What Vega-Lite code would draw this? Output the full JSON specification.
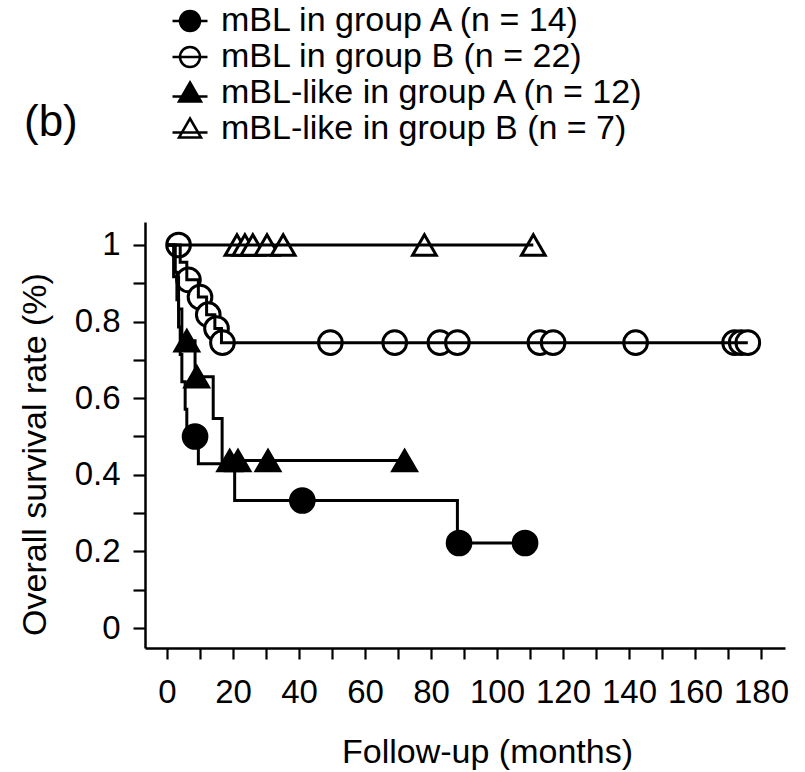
{
  "$schema": "https://vega.github.io/schema/vega-lite/v6.json",
  "width": 640,
  "height": 426,
  "autosize": {"type": "none"},
  "padding": {"left": 145, "top": 222, "right": 20, "bottom": 124},
  "background": "white",
  "title": {"text": "(b)", "anchor": "start", "frame": "group", "orient": "top", "fontSize": 44, "font": "Liberation Sans", "fontWeight": "normal", "color": "black", "dx": -121, "offset": 0, "dy": 163, "baseline": "middle"},
  "config": {
    "view": {"stroke": null},
    "font": "Liberation Sans",
    "axis": {"grid": false, "domainColor": "black", "domainWidth": 2.5, "tickColor": "black", "tickWidth": 2.2, "labelColor": "black", "titleColor": "black", "labelFont": "Liberation Sans", "titleFont": "Liberation Sans", "labelFontSize": 33, "titleFontSize": 34, "titleFontWeight": "normal"}
  },
  "data": {"values": [
    {"series": "mBL in group A (n = 14)", "month": 0, "survival": 1, "type": "step"},
    {"series": "mBL in group A (n = 14)", "month": 2.5, "survival": 0.929, "type": "step"},
    {"series": "mBL in group A (n = 14)", "month": 3, "survival": 0.857, "type": "step"},
    {"series": "mBL in group A (n = 14)", "month": 3.5, "survival": 0.786, "type": "step"},
    {"series": "mBL in group A (n = 14)", "month": 4, "survival": 0.714, "type": "step"},
    {"series": "mBL in group A (n = 14)", "month": 4.5, "survival": 0.643, "type": "step"},
    {"series": "mBL in group A (n = 14)", "month": 5.5, "survival": 0.571, "type": "step"},
    {"series": "mBL in group A (n = 14)", "month": 6, "survival": 0.5, "type": "step"},
    {"series": "mBL in group A (n = 14)", "month": 8.5, "survival": 0.5, "type": "censor"},
    {"series": "mBL in group A (n = 14)", "month": 9.5, "survival": 0.429, "type": "step"},
    {"series": "mBL in group A (n = 14)", "month": 20.5, "survival": 0.333, "type": "step"},
    {"series": "mBL in group A (n = 14)", "month": 41, "survival": 0.333, "type": "censor"},
    {"series": "mBL in group A (n = 14)", "month": 88, "survival": 0.222, "type": "step"},
    {"series": "mBL in group A (n = 14)", "month": 88.5, "survival": 0.222, "type": "censor"},
    {"series": "mBL in group A (n = 14)", "month": 108.5, "survival": 0.222, "type": "censor"},

    {"series": "mBL in group B (n = 22)", "month": 0, "survival": 1, "type": "step"},
    {"series": "mBL in group B (n = 22)", "month": 3.5, "survival": 1, "type": "censor"},
    {"series": "mBL in group B (n = 22)", "month": 4, "survival": 0.955, "type": "step"},
    {"series": "mBL in group B (n = 22)", "month": 6, "survival": 0.909, "type": "step"},
    {"series": "mBL in group B (n = 22)", "month": 6.5, "survival": 0.909, "type": "censor"},
    {"series": "mBL in group B (n = 22)", "month": 9.5, "survival": 0.864, "type": "step"},
    {"series": "mBL in group B (n = 22)", "month": 10, "survival": 0.864, "type": "censor"},
    {"series": "mBL in group B (n = 22)", "month": 12, "survival": 0.818, "type": "step"},
    {"series": "mBL in group B (n = 22)", "month": 12.5, "survival": 0.818, "type": "censor"},
    {"series": "mBL in group B (n = 22)", "month": 14.5, "survival": 0.782, "type": "step"},
    {"series": "mBL in group B (n = 22)", "month": 15, "survival": 0.782, "type": "censor"},
    {"series": "mBL in group B (n = 22)", "month": 16.5, "survival": 0.745, "type": "step"},
    {"series": "mBL in group B (n = 22)", "month": 16.8, "survival": 0.745, "type": "censor"},
    {"series": "mBL in group B (n = 22)", "month": 49.5, "survival": 0.745, "type": "censor"},
    {"series": "mBL in group B (n = 22)", "month": 69, "survival": 0.745, "type": "censor"},
    {"series": "mBL in group B (n = 22)", "month": 82.7, "survival": 0.745, "type": "censor"},
    {"series": "mBL in group B (n = 22)", "month": 88, "survival": 0.745, "type": "censor"},
    {"series": "mBL in group B (n = 22)", "month": 113, "survival": 0.745, "type": "censor"},
    {"series": "mBL in group B (n = 22)", "month": 117, "survival": 0.745, "type": "censor"},
    {"series": "mBL in group B (n = 22)", "month": 142, "survival": 0.745, "type": "censor"},
    {"series": "mBL in group B (n = 22)", "month": 172, "survival": 0.745, "type": "censor"},
    {"series": "mBL in group B (n = 22)", "month": 174, "survival": 0.745, "type": "censor"},
    {"series": "mBL in group B (n = 22)", "month": 176, "survival": 0.745, "type": "censor"},

    {"series": "mBL-like in group A (n = 12)", "month": 0, "survival": 1, "type": "step"},
    {"series": "mBL-like in group A (n = 12)", "month": 2, "survival": 0.917, "type": "step"},
    {"series": "mBL-like in group A (n = 12)", "month": 3.5, "survival": 0.833, "type": "step"},
    {"series": "mBL-like in group A (n = 12)", "month": 4.5, "survival": 0.75, "type": "step"},
    {"series": "mBL-like in group A (n = 12)", "month": 6, "survival": 0.75, "type": "censor"},
    {"series": "mBL-like in group A (n = 12)", "month": 8.5, "survival": 0.656, "type": "step"},
    {"series": "mBL-like in group A (n = 12)", "month": 9, "survival": 0.656, "type": "censor"},
    {"series": "mBL-like in group A (n = 12)", "month": 14, "survival": 0.547, "type": "step"},
    {"series": "mBL-like in group A (n = 12)", "month": 16.7, "survival": 0.437, "type": "step"},
    {"series": "mBL-like in group A (n = 12)", "month": 19, "survival": 0.437, "type": "censor"},
    {"series": "mBL-like in group A (n = 12)", "month": 21.5, "survival": 0.437, "type": "censor"},
    {"series": "mBL-like in group A (n = 12)", "month": 30.6, "survival": 0.437, "type": "censor"},
    {"series": "mBL-like in group A (n = 12)", "month": 72, "survival": 0.437, "type": "censor"},

    {"series": "mBL-like in group B (n = 7)", "month": 0, "survival": 1, "type": "step"},
    {"series": "mBL-like in group B (n = 7)", "month": 21.2, "survival": 1, "type": "censor"},
    {"series": "mBL-like in group B (n = 7)", "month": 23.6, "survival": 1, "type": "censor"},
    {"series": "mBL-like in group B (n = 7)", "month": 26, "survival": 1, "type": "censor"},
    {"series": "mBL-like in group B (n = 7)", "month": 30.3, "survival": 1, "type": "censor"},
    {"series": "mBL-like in group B (n = 7)", "month": 35.2, "survival": 1, "type": "censor"},
    {"series": "mBL-like in group B (n = 7)", "month": 78, "survival": 1, "type": "censor"},
    {"series": "mBL-like in group B (n = 7)", "month": 111, "survival": 1, "type": "censor"}
  ]},
  "encoding": {
    "x": {"field": "month", "type": "quantitative",
      "scale": {"domain": [-6.67, 187.27], "nice": false, "zero": false},
      "axis": {"title": "Follow-up (months)", "values": [0,10,20,30,40,50,60,70,80,90,100,110,120,130,140,150,160,170,180],
        "labelExpr": "datum.value % 20 === 0 ? datum.label : ''", "labelOverlap": false, "labelFlush": false,
        "tickSize": 11, "labelPadding": 17, "titleX": 342, "titleY": 104, "titleBaseline": "middle",
        "encode": {"ticks": {"update": {"y2": {"signal": "datum.value % 20 === 0 ? 11 : 6"}}}}}},
    "y": {"field": "survival", "type": "quantitative",
      "scale": {"domain": [-0.0522, 1.06], "nice": false, "zero": false},
      "axis": {"title": "Overall survival rate (%)", "values": [0,0.1,0.2,0.3,0.4,0.5,0.6,0.7,0.8,0.9,1],
        "format": "~g", "labelExpr": "round(datum.value*10) % 2 === 0 ? datum.label : ''", "labelOverlap": false, "labelFlush": false,
        "tickSize": 12, "labelPadding": 13, "titleX": -110, "titleY": 232, "titleBaseline": "middle", "titleAngle": 270,
        "encode": {"ticks": {"update": {"x2": {"signal": "round(datum.value*10) % 2 === 0 ? -12 : -6"}}}}}}
  },
  "layer": [
    {
      "transform": [{"filter": "false"}],
      "mark": {"type": "point", "filled": true, "stroke": "black", "strokeWidth": 2.5, "opacity": 1, "size": 400},
      "encoding": {
        "shape": {"field": "series", "type": "nominal",
          "scale": {"domain": ["mBL in group A (n = 14)", "mBL in group B (n = 22)", "mBL-like in group A (n = 12)", "mBL-like in group B (n = 7)"],
                    "range": ["M-1.75,0L1.75,0M1,0A1,1,0,1,1,-1,0A1,1,0,1,1,1,0Z", "M-1.75,0L1.75,0M1,0A1,1,0,1,1,-1,0A1,1,0,1,1,1,0Z", "M-1.75,0.35L1.75,0.35M0,-1.05L1.1,0.85L-1.1,0.85Z", "M-1.75,0.35L1.75,0.35M0,-1.05L1.1,0.85L-1.1,0.85Z"]},
          "legend": {"title": null, "orient": "none", "legendX": 28, "legendY": -218, "padding": 0, "symbolSize": 400, "labelOffset": 14, "rowPadding": 2, "labelFontSize": 34, "labelFont": "Liberation Sans", "labelColor": "black", "labelLimit": 700, "symbolStrokeWidth": 2.5, "symbolStrokeColor": "black", "symbolOpacity": 1,
            "encode": {"symbols": {"update": {"stroke": {"value": "black"}, "strokeWidth": {"value": 2.5}}}}}},
        "fill": {"field": "series", "type": "nominal",
          "scale": {"domain": ["mBL in group A (n = 14)", "mBL in group B (n = 22)", "mBL-like in group A (n = 12)", "mBL-like in group B (n = 7)"],
                    "range": ["black", "white", "black", "white"]},
          "legend": {"title": null, "orient": "none", "legendX": 28, "legendY": -218, "padding": 0, "symbolSize": 400, "labelOffset": 14, "rowPadding": 2, "labelFontSize": 34, "labelFont": "Liberation Sans", "labelColor": "black", "labelLimit": 700, "symbolStrokeWidth": 2.5, "symbolStrokeColor": "black", "symbolOpacity": 1,
            "encode": {"symbols": {"update": {"stroke": {"value": "black"}, "strokeWidth": {"value": 2.5}}}}}}
      }
    },
    {
      "transform": [{"filter": "datum.type === 'censor'"}],
      "mark": {"type": "point", "filled": true, "stroke": "black", "strokeWidth": 3, "opacity": 1, "size": 560},
      "encoding": {
        "shape": {"field": "series", "type": "nominal",
          "scale": {"domain": ["mBL in group A (n = 14)", "mBL in group B (n = 22)", "mBL-like in group A (n = 12)", "mBL-like in group B (n = 7)"],
                    "range": ["circle", "circle", "triangle-up", "triangle-up"]},
          "legend": null},
        "fill": {"field": "series", "type": "nominal",
          "scale": {"domain": ["mBL in group A (n = 14)", "mBL in group B (n = 22)", "mBL-like in group A (n = 12)", "mBL-like in group B (n = 7)"],
                    "range": ["black", "white", "black", "white"]},
          "legend": null}
      }
    },
    {
      "transform": [{"filter": "datum.type === 'step' || datum.type === 'censor'"}],
      "mark": {"type": "line", "interpolate": "step-after", "stroke": "black", "strokeWidth": 3},
      "encoding": {
        "detail": {"field": "series", "type": "nominal"},
        "order": {"field": "month", "type": "quantitative"}
      }
    }
  ],
  "resolve": {"scale": {"shape": "independent", "fill": "independent"}}
}
